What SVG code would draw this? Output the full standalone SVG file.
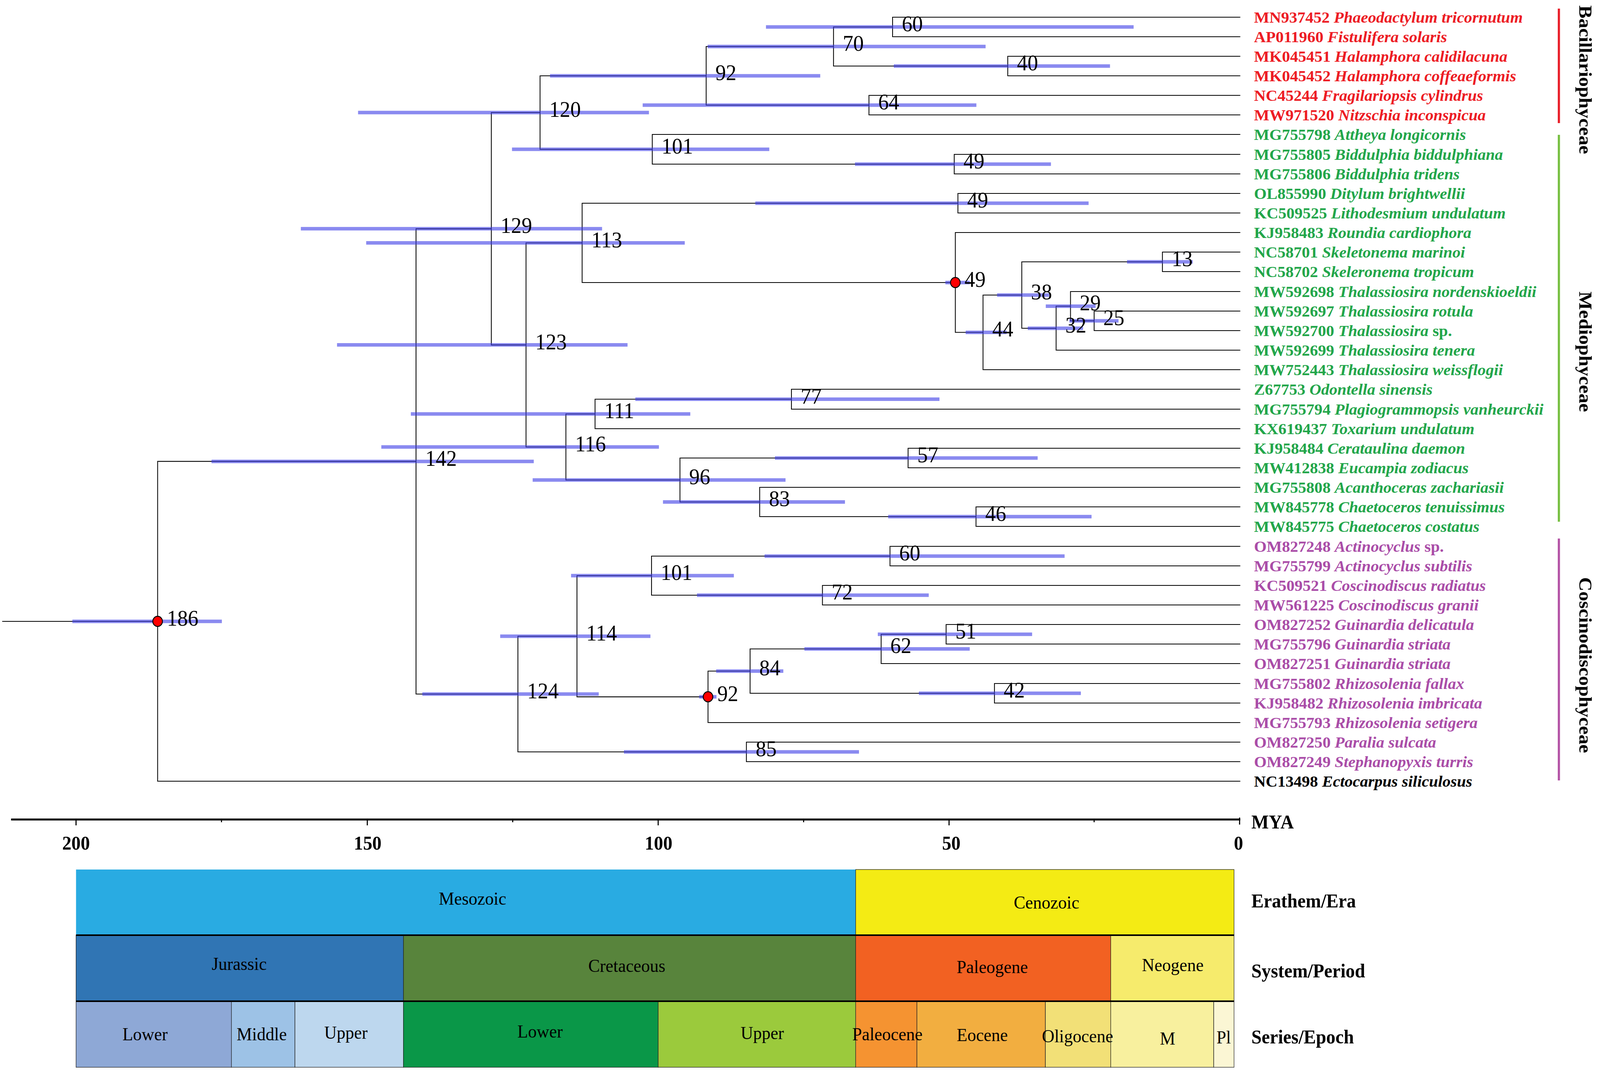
<svg xmlns="http://www.w3.org/2000/svg" width="4328" height="2738" viewBox="0 0 4328 2738">
<style>
.br{fill:none;stroke:#000;stroke-width:2.2}
.hpd{stroke:#3c3ce6;stroke-opacity:0.6;stroke-width:9;fill:none}
.nl{font-family:"Liberation Serif","Times New Roman",serif;font-size:57px;fill:#000}
.tx{font-family:"Liberation Serif","Times New Roman",serif;font-size:40px;font-weight:bold}
.r{fill:#ED1C24}.g{fill:#22A64A}.p{fill:#AA4DA8}.k{fill:#000}
.cls{font-family:"Liberation Serif","Times New Roman",serif;font-size:50px;font-weight:bold;text-anchor:middle;fill:#000}
.band{font-family:"Liberation Serif","Times New Roman",serif;font-size:47px;text-anchor:middle;fill:#000}
.ax{font-family:"Liberation Serif","Times New Roman",serif;font-size:50px;font-weight:bold;fill:#000}
.dot{fill:#FF0000;stroke:#000;stroke-width:2.5}
.cell{stroke:#222;stroke-width:1.3}
</style>
<rect width="4328" height="2738" fill="#fff"/>
<g id="figure" transform="scale(0.945 1)">
<g id="connectors">
<path class="br" d="M6 1590 H427"/>
<path class="br" d="M1127 1180.7 H427 V1999 H3360"/>
<path class="br" d="M1331 585.3 H1127 V1776 H1403"/>
<path class="br" d="M1463 288 H1331 V882.6 H1425"/>
<path class="br" d="M1913 194 H1463 V382 H1767"/>
<path class="br" d="M2258 119 H1913 V269 H2354"/>
<path class="br" d="M2418 69 H2258 V169 H2730"/>
<path class="br" d="M3360 44 H2418 V94 H3360"/>
<path class="br" d="M3360 144 H2730 V194 H3360"/>
<path class="br" d="M3360 244 H2354 V294 H3360"/>
<path class="br" d="M3360 344 H1767 V420 H2585"/>
<path class="br" d="M3360 395 H2585 V445 H3360"/>
<path class="br" d="M1577 621.5 H1425 V1143.75 H1533"/>
<path class="br" d="M2595 520 H1577 V723 H2588"/>
<path class="br" d="M3360 495 H2595 V545 H3360"/>
<path class="br" d="M3360 595 H2588 V850.5 H2663"/>
<path class="br" d="M2768 755 H2663 V946 H3360"/>
<path class="br" d="M3149 670 H2768 V840 H2861"/>
<path class="br" d="M3360 645 H3149 V695 H3360"/>
<path class="br" d="M2900 783.5 H2861 V896 H3360"/>
<path class="br" d="M3360 746 H2900 V821 H2964"/>
<path class="br" d="M3360 796 H2964 V846 H3360"/>
<path class="br" d="M1612 1059.25 H1533 V1228.25 H1842"/>
<path class="br" d="M2144 1021.5 H1612 V1097 H3360"/>
<path class="br" d="M3360 996 H2144 V1047 H3360"/>
<path class="br" d="M2460 1172 H1842 V1284.5 H2058"/>
<path class="br" d="M3360 1147 H2460 V1197 H3360"/>
<path class="br" d="M3360 1247 H2058 V1322 H2644"/>
<path class="br" d="M3360 1297 H2644 V1347 H3360"/>
<path class="br" d="M1563 1628 H1403 V1924 H2022"/>
<path class="br" d="M1765 1473 H1563 V1783.1 H1918"/>
<path class="br" d="M2411 1423 H1765 V1523 H2228"/>
<path class="br" d="M3360 1398 H2411 V1448 H3360"/>
<path class="br" d="M3360 1498 H2228 V1548 H3360"/>
<path class="br" d="M2032 1717.25 H1918 V1849 H3360"/>
<path class="br" d="M2387 1660.5 H2032 V1774 H2694"/>
<path class="br" d="M2563 1623 H2387 V1698 H3360"/>
<path class="br" d="M3360 1598 H2563 V1648 H3360"/>
<path class="br" d="M3360 1749 H2694 V1799 H3360"/>
<path class="br" d="M3360 1899 H2022 V1949 H3360"/>
</g>

<g id="hpd-bars">
<path class="hpd" d="M196 1590 H601"/>
<path class="hpd" d="M573 1180.7 H1446"/>
<path class="hpd" d="M815 585.3 H1631"/>
<path class="hpd" d="M970 288 H1758"/>
<path class="hpd" d="M1490 194 H2222"/>
<path class="hpd" d="M1917 119 H2670"/>
<path class="hpd" d="M2075 69 H3071"/>
<path class="hpd" d="M2421 169 H3007"/>
<path class="hpd" d="M1741 269 H2645"/>
<path class="hpd" d="M1387 382 H2084"/>
<path class="hpd" d="M2316 420 H2847"/>
<path class="hpd" d="M913 882.6 H1700"/>
<path class="hpd" d="M992 621.5 H1855"/>
<path class="hpd" d="M2046 520 H2949"/>
<path class="hpd" d="M2561 723 H2627"/>
<path class="hpd" d="M2616 850.5 H2727"/>
<path class="hpd" d="M2701 755 H2842"/>
<path class="hpd" d="M3053 670 H3231"/>
<path class="hpd" d="M2784 840 H2934"/>
<path class="hpd" d="M2833 783.5 H2968"/>
<path class="hpd" d="M2897 821 H3030"/>
<path class="hpd" d="M1033 1143.75 H1785"/>
<path class="hpd" d="M1113 1059.25 H1870"/>
<path class="hpd" d="M1721 1021.5 H2545"/>
<path class="hpd" d="M1443 1228.25 H2128"/>
<path class="hpd" d="M2099 1172 H2811"/>
<path class="hpd" d="M1796 1284.5 H2289"/>
<path class="hpd" d="M2406 1322 H2957"/>
<path class="hpd" d="M1144 1776 H1622"/>
<path class="hpd" d="M1355 1628 H1762"/>
<path class="hpd" d="M1547 1473 H1988"/>
<path class="hpd" d="M2071 1423 H2884"/>
<path class="hpd" d="M1888 1523 H2516"/>
<path class="hpd" d="M1894 1783.1 H1941"/>
<path class="hpd" d="M1940 1717.25 H2122"/>
<path class="hpd" d="M2179 1660.5 H2627"/>
<path class="hpd" d="M2378 1623 H2796"/>
<path class="hpd" d="M2489 1774 H2928"/>
<path class="hpd" d="M1690 1924 H2327"/>
</g>

<g id="node-186"><circle class="dot" cx="427" cy="1590" r="13"/><text class="nl" x="452" y="1601">186</text></g>
<g id="node-142"><text class="nl" x="1152" y="1192">142</text></g>
<g id="node-129"><text class="nl" x="1356" y="596">129</text></g>
<g id="node-120"><text class="nl" x="1488" y="299">120</text></g>
<g id="node-92a"><text class="nl" x="1938" y="205">92</text></g>
<g id="node-70"><text class="nl" x="2283" y="130">70</text></g>
<g id="node-60a"><text class="nl" x="2443" y="80">60</text></g>
<g id="node-40"><text class="nl" x="2755" y="180">40</text></g>
<g id="node-64"><text class="nl" x="2379" y="280">64</text></g>
<g id="node-101a"><text class="nl" x="1792" y="393">101</text></g>
<g id="node-49a"><text class="nl" x="2610" y="431">49</text></g>
<g id="node-123"><text class="nl" x="1450" y="894">123</text></g>
<g id="node-113"><text class="nl" x="1602" y="633">113</text></g>
<g id="node-49b"><text class="nl" x="2620" y="531">49</text></g>
<g id="node-49c"><circle class="dot" cx="2588" cy="723" r="13"/><text class="nl" x="2613" y="734">49</text></g>
<g id="node-44"><text class="nl" x="2688" y="861">44</text></g>
<g id="node-38"><text class="nl" x="2793" y="766">38</text></g>
<g id="node-13"><text class="nl" x="3174" y="681">13</text></g>
<g id="node-32"><text class="nl" x="2886" y="851">32</text></g>
<g id="node-29"><text class="nl" x="2925" y="794">29</text></g>
<g id="node-25"><text class="nl" x="2989" y="832">25</text></g>
<g id="node-116"><text class="nl" x="1558" y="1155">116</text></g>
<g id="node-111"><text class="nl" x="1637" y="1070">111</text></g>
<g id="node-77"><text class="nl" x="2169" y="1033">77</text></g>
<g id="node-96"><text class="nl" x="1867" y="1239">96</text></g>
<g id="node-57"><text class="nl" x="2485" y="1183">57</text></g>
<g id="node-83"><text class="nl" x="2083" y="1295">83</text></g>
<g id="node-46"><text class="nl" x="2669" y="1333">46</text></g>
<g id="node-124"><text class="nl" x="1428" y="1787">124</text></g>
<g id="node-114"><text class="nl" x="1588" y="1639">114</text></g>
<g id="node-101b"><text class="nl" x="1790" y="1484">101</text></g>
<g id="node-60b"><text class="nl" x="2436" y="1434">60</text></g>
<g id="node-72"><text class="nl" x="2253" y="1534">72</text></g>
<g id="node-92b"><circle class="dot" cx="1918" cy="1783" r="13"/><text class="nl" x="1943" y="1794">92</text></g>
<g id="node-84"><text class="nl" x="2057" y="1728">84</text></g>
<g id="node-62"><text class="nl" x="2412" y="1671">62</text></g>
<g id="node-51"><text class="nl" x="2588" y="1634">51</text></g>
<g id="node-42"><text class="nl" x="2719" y="1785">42</text></g>
<g id="node-85"><text class="nl" x="2047" y="1935">85</text></g>

<g id="tips" transform="translate(3397 0) scale(1.1 1)">
<g id="tip-MN937452"><text class="tx r" x="0" y="58">MN937452 <tspan font-style="italic">Phaeodactylum tricornutum</tspan></text></g>
<g id="tip-AP011960"><text class="tx r" x="0" y="108">AP011960 <tspan font-style="italic">Fistulifera solaris</tspan></text></g>
<g id="tip-MK045451"><text class="tx r" x="0" y="158">MK045451 <tspan font-style="italic">Halamphora calidilacuna</tspan></text></g>
<g id="tip-MK045452"><text class="tx r" x="0" y="208">MK045452 <tspan font-style="italic">Halamphora coffeaeformis</tspan></text></g>
<g id="tip-NC45244"><text class="tx r" x="0" y="258">NC45244 <tspan font-style="italic">Fragilariopsis cylindrus</tspan></text></g>
<g id="tip-MW971520"><text class="tx r" x="0" y="308">MW971520 <tspan font-style="italic">Nitzschia inconspicua</tspan></text></g>
<g id="tip-MG755798"><text class="tx g" x="0" y="358">MG755798 <tspan font-style="italic">Attheya longicornis</tspan></text></g>
<g id="tip-MG755805"><text class="tx g" x="0" y="409">MG755805 <tspan font-style="italic">Biddulphia biddulphiana</tspan></text></g>
<g id="tip-MG755806"><text class="tx g" x="0" y="459">MG755806 <tspan font-style="italic">Biddulphia tridens</tspan></text></g>
<g id="tip-OL855990"><text class="tx g" x="0" y="509">OL855990 <tspan font-style="italic">Ditylum brightwellii</tspan></text></g>
<g id="tip-KC509525"><text class="tx g" x="0" y="559">KC509525 <tspan font-style="italic">Lithodesmium undulatum</tspan></text></g>
<g id="tip-KJ958483"><text class="tx g" x="0" y="609">KJ958483 <tspan font-style="italic">Roundia cardiophora</tspan></text></g>
<g id="tip-NC58701"><text class="tx g" x="0" y="659">NC58701 <tspan font-style="italic">Skeletonema marinoi</tspan></text></g>
<g id="tip-NC58702"><text class="tx g" x="0" y="709">NC58702 <tspan font-style="italic">Skeleronema tropicum</tspan></text></g>
<g id="tip-MW592698"><text class="tx g" x="0" y="760">MW592698 <tspan font-style="italic">Thalassiosira nordenskioeldii</tspan></text></g>
<g id="tip-MW592697"><text class="tx g" x="0" y="810">MW592697 <tspan font-style="italic">Thalassiosira rotula</tspan></text></g>
<g id="tip-MW592700"><text class="tx g" x="0" y="860">MW592700 <tspan font-style="italic">Thalassiosira</tspan> sp.</text></g>
<g id="tip-MW592699"><text class="tx g" x="0" y="910">MW592699 <tspan font-style="italic">Thalassiosira tenera</tspan></text></g>
<g id="tip-MW752443"><text class="tx g" x="0" y="960">MW752443 <tspan font-style="italic">Thalassiosira weissflogii</tspan></text></g>
<g id="tip-Z67753"><text class="tx g" x="0" y="1010">Z67753 <tspan font-style="italic">Odontella sinensis</tspan></text></g>
<g id="tip-MG755794"><text class="tx g" x="0" y="1061">MG755794 <tspan font-style="italic">Plagiogrammopsis vanheurckii</tspan></text></g>
<g id="tip-KX619437"><text class="tx g" x="0" y="1111">KX619437 <tspan font-style="italic">Toxarium undulatum</tspan></text></g>
<g id="tip-KJ958484"><text class="tx g" x="0" y="1161">KJ958484 <tspan font-style="italic">Cerataulina daemon</tspan></text></g>
<g id="tip-MW412838"><text class="tx g" x="0" y="1211">MW412838 <tspan font-style="italic">Eucampia zodiacus</tspan></text></g>
<g id="tip-MG755808"><text class="tx g" x="0" y="1261">MG755808 <tspan font-style="italic">Acanthoceras zachariasii</tspan></text></g>
<g id="tip-MW845778"><text class="tx g" x="0" y="1311">MW845778 <tspan font-style="italic">Chaetoceros tenuissimus</tspan></text></g>
<g id="tip-MW845775"><text class="tx g" x="0" y="1361">MW845775 <tspan font-style="italic">Chaetoceros costatus</tspan></text></g>
<g id="tip-OM827248"><text class="tx p" x="0" y="1412">OM827248 <tspan font-style="italic">Actinocyclus</tspan> sp.</text></g>
<g id="tip-MG755799"><text class="tx p" x="0" y="1462">MG755799 <tspan font-style="italic">Actinocyclus subtilis</tspan></text></g>
<g id="tip-KC509521"><text class="tx p" x="0" y="1512">KC509521 <tspan font-style="italic">Coscinodiscus radiatus</tspan></text></g>
<g id="tip-MW561225"><text class="tx p" x="0" y="1562">MW561225 <tspan font-style="italic">Coscinodiscus granii</tspan></text></g>
<g id="tip-OM827252"><text class="tx p" x="0" y="1612">OM827252 <tspan font-style="italic">Guinardia delicatula</tspan></text></g>
<g id="tip-MG755796"><text class="tx p" x="0" y="1662">MG755796 <tspan font-style="italic">Guinardia striata</tspan></text></g>
<g id="tip-OM827251"><text class="tx p" x="0" y="1712">OM827251 <tspan font-style="italic">Guinardia striata</tspan></text></g>
<g id="tip-MG755802"><text class="tx p" x="0" y="1763">MG755802 <tspan font-style="italic">Rhizosolenia fallax</tspan></text></g>
<g id="tip-KJ958482"><text class="tx p" x="0" y="1813">KJ958482 <tspan font-style="italic">Rhizosolenia imbricata</tspan></text></g>
<g id="tip-MG755793"><text class="tx p" x="0" y="1863">MG755793 <tspan font-style="italic">Rhizosolenia setigera</tspan></text></g>
<g id="tip-OM827250"><text class="tx p" x="0" y="1913">OM827250 <tspan font-style="italic">Paralia sulcata</tspan></text></g>
<g id="tip-OM827249"><text class="tx p" x="0" y="1963">OM827249 <tspan font-style="italic">Stephanopyxis turris</tspan></text></g>
<g id="tip-NC13498"><text class="tx k" x="0" y="2013">NC13498 <tspan font-style="italic">Ectocarpus siliculosus</tspan></text></g>
</g>

<g id="class-labels">
<rect x="4220" y="22" width="6" height="293" fill="#E8202A"/>
<rect x="4220" y="345" width="6" height="990" fill="#78C043"/>
<rect x="4220" y="1378" width="6" height="619" fill="#B454A6"/>
<text class="cls" transform="translate(4278 204) rotate(90)">Bacillariophyceae</text>
<text class="cls" transform="translate(4278 900) rotate(90)">Mediophyceae</text>
<text class="cls" transform="translate(4278 1702) rotate(90)">Coscinodiscophyceae</text>
</g>

<g id="axis">
<line x1="30" y1="2097" x2="3360" y2="2097" stroke="#000" stroke-width="5"/>
<g stroke="#000" stroke-width="3">
<line x1="206" y1="2097" x2="206" y2="2112"/>
<line x1="995" y1="2097" x2="995" y2="2112"/>
<line x1="1783" y1="2097" x2="1783" y2="2112"/>
<line x1="2571" y1="2097" x2="2571" y2="2112"/>
<line x1="3358" y1="2092" x2="3358" y2="2110"/>
<line x1="600" y1="2097" x2="600" y2="2104"/>
<line x1="1389" y1="2097" x2="1389" y2="2104"/>
<line x1="2177" y1="2097" x2="2177" y2="2104"/>
<line x1="2964" y1="2097" x2="2964" y2="2104"/>
</g>
<text class="ax" x="206" y="2174" text-anchor="middle">200</text>
<text class="ax" x="996" y="2174" text-anchor="middle">150</text>
<text class="ax" x="1784" y="2174" text-anchor="middle">100</text>
<text class="ax" x="2577" y="2174" text-anchor="middle">50</text>
<text class="ax" x="3355" y="2174" text-anchor="middle">0</text>
<text class="ax" x="3390" y="2120">MYA</text>
</g>

<g id="timescale">
<rect x="206" y="2225" width="2112" height="168" fill="#29ABE2"/>
<rect x="2318" y="2225" width="1025" height="168" fill="#F4EB14" class="cell"/>
<rect x="206" y="2393" width="887" height="169" fill="#3075B4" class="cell"/>
<rect x="1093" y="2393" width="1225" height="169" fill="#58843C" class="cell"/>
<rect x="2318" y="2393" width="691" height="169" fill="#F26122" class="cell"/>
<rect x="3009" y="2393" width="334" height="169" fill="#F6EB6C" class="cell"/>
<rect x="206" y="2562" width="421" height="169" fill="#8EA8D6" class="cell"/>
<rect x="627" y="2562" width="172" height="169" fill="#9DC2E6" class="cell"/>
<rect x="799" y="2562" width="294" height="169" fill="#BDD7EE" class="cell"/>
<rect x="1093" y="2562" width="690" height="169" fill="#0A9748" class="cell"/>
<rect x="1783" y="2562" width="535" height="169" fill="#9BCA3C" class="cell"/>
<rect x="2318" y="2562" width="166" height="169" fill="#F59331" class="cell"/>
<rect x="2484" y="2562" width="348" height="169" fill="#F2AE40" class="cell"/>
<rect x="2832" y="2562" width="177" height="169" fill="#F2E077" class="cell"/>
<rect x="3009" y="2562" width="279" height="169" fill="#F8F09E" class="cell"/>
<rect x="3288" y="2562" width="55" height="169" fill="#FBF6D4" class="cell"/>
<line x1="206" y1="2393" x2="3343" y2="2393" stroke="#000" stroke-width="4"/>
<line x1="206" y1="2562" x2="3343" y2="2562" stroke="#000" stroke-width="4"/>
<text class="band" x="1280" y="2315">Mesozoic</text>
<text class="band" x="2835" y="2325">Cenozoic</text>
<text class="band" x="648" y="2482">Jurassic</text>
<text class="band" x="1698" y="2487">Cretaceous</text>
<text class="band" x="2688" y="2490">Paleogene</text>
<text class="band" x="3177" y="2485">Neogene</text>
<text class="band" x="393" y="2662">Lower</text>
<text class="band" x="709" y="2662">Middle</text>
<text class="band" x="937" y="2658">Upper</text>
<text class="band" x="1463" y="2655">Lower</text>
<text class="band" x="2065" y="2659">Upper</text>
<text class="band" x="2404" y="2662">Paleocene</text>
<text class="band" x="2661" y="2664">Eocene</text>
<text class="band" x="2919" y="2667">Oligocene</text>
<text class="band" x="3163" y="2673">M</text>
<text class="band" x="3315" y="2670">Pl</text>
<text class="ax" x="3390" y="2322">Erathem/Era</text>
<text class="ax" x="3390" y="2501">System/Period</text>
<text class="ax" x="3390" y="2670">Series/Epoch</text>
</g>
</g>
</svg>
